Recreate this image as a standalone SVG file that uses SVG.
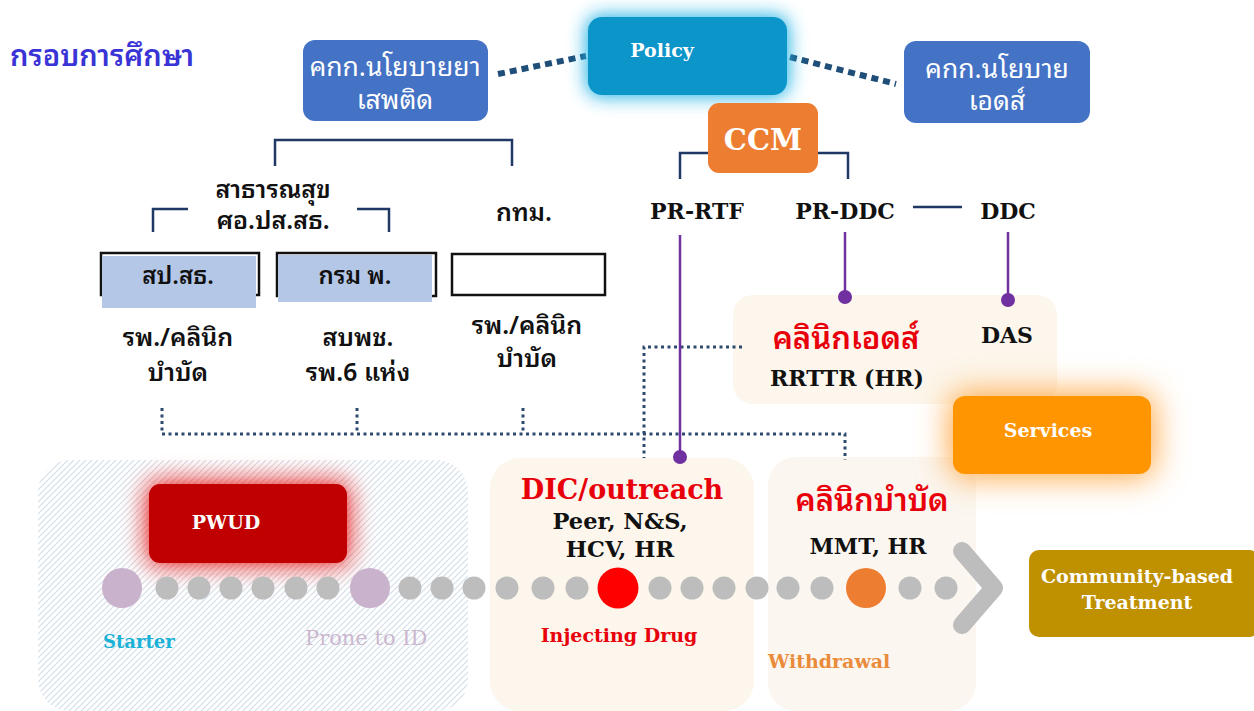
<svg xmlns="http://www.w3.org/2000/svg" width="1254" height="711" viewBox="0 0 1254 711">
  <style>
    .th { font-family: "Noto Sans Thai Looped", "Noto Sans Thai", "Noto Sans", "DejaVu Sans", sans-serif; }
    .tb { font-weight: 600; }
    .sf { font-family: "DejaVu Serif", "Liberation Serif", serif; font-weight: bold; }
    .wt { fill: #ffffff; }
    .bk { fill: #111111; }
    .rd { fill: #e8000b; }
    .brk { fill: none; stroke: #1f3864; stroke-width: 2.5; }
    .dot3 { fill: none; stroke: #2e4a6e; stroke-width: 3; stroke-dasharray: 3 3.5; }
    .dot6 { fill: none; stroke: #1f4e79; stroke-width: 6; stroke-dasharray: 7 5; }
    .pl { stroke: #7030a0; stroke-width: 2.5; fill: none; }
    .pd { fill: #7030a0; }
    .gd { fill: #bdbdbd; }
    .bd { fill: #c9b3cc; }
  </style>
  <defs>
    <filter id="glowCyan" x="-30%" y="-50%" width="160%" height="200%">
      <feGaussianBlur stdDeviation="9"/>
    </filter>
    <filter id="glowOrange" x="-50%" y="-80%" width="200%" height="260%">
      <feGaussianBlur stdDeviation="16"/>
    </filter>
    <filter id="glowRed" x="-40%" y="-60%" width="180%" height="220%">
      <feGaussianBlur stdDeviation="12"/>
    </filter>
    <pattern id="hatch" patternUnits="userSpaceOnUse" width="6" height="6">
      <rect width="6" height="6" fill="#ffffff"/>
      <path d="M0,6 L6,0 M-1,1 L1,-1 M5,7 L7,5" stroke="#d3dfea" stroke-width="1.2"/>
    </pattern>
  </defs>

  <rect width="1254" height="711" fill="#ffffff"/>

  <!-- heading -->
  <text class="th tb" x="10" y="66" font-size="29" fill="#3a33d6">กรอบการศึกษา</text>

  <!-- bottom stage panels -->
  <g id="panel-early">
    <rect x="38" y="460" width="430" height="251" rx="32" fill="url(#hatch)"/>
  </g>
  <g id="panel-dic">
    <rect x="490" y="458" width="264" height="253" rx="30" fill="#fcf6ec"/>
    <text class="sf rd" x="622" y="499" font-size="27" text-anchor="middle">DIC/outreach</text>
    <text class="sf bk" x="620" y="529" font-size="22.5" text-anchor="middle">Peer, N&amp;S,</text>
    <text class="sf bk" x="620" y="557" font-size="22.5" text-anchor="middle">HCV, HR</text>
  </g>
  <g id="panel-clinic">
    <rect x="768" y="457" width="208" height="254" rx="28" fill="#fbf6f0"/>
    <text class="th rd tb" x="872" y="511" font-size="31" text-anchor="middle">คลินิกบำบัด</text>
    <text class="sf bk" x="868" y="554" font-size="22" text-anchor="middle">MMT, HR</text>
  </g>

  <!-- AIDS clinic panel -->
  <g id="panel-aids">
    <rect x="733" y="295" width="324" height="109" rx="20" fill="#fcf6ec"/>
    <text class="th rd tb" x="846" y="349" font-size="31" text-anchor="middle">คลินิกเอดส์</text>
    <text class="sf bk" x="847" y="386" font-size="22" text-anchor="middle">RRTTR (HR)</text>
    <text class="sf bk" x="1007" y="343" font-size="22" text-anchor="middle">DAS</text>
  </g>

  <!-- connectors -->
  <g id="connectors">
    <!-- policy links -->
    <path class="dot6" d="M498,74 L586,56"/>
    <path class="dot6" d="M790,57 L896,84"/>
    <!-- drug committee bracket -->
    <path class="brk" d="M275,166 V140 H512 V166"/>
    <!-- CCM bracket -->
    <path class="brk" d="M680,179 V153 H708 M818,153 H848 V179"/>
    <!-- public health bracket -->
    <path class="brk" d="M153,232 V209 H188 M357,209 H389 V232"/>
    <!-- PR-DDC to DDC -->
    <path class="brk" d="M913,207 H962"/>
    <!-- service referral dotted lines -->
    <path class="dot3" d="M162,408 V434 H845 V460"/>
    <path class="dot3" d="M357,408 V434"/>
    <path class="dot3" d="M523,408 V434"/>
    <path class="dot3" d="M742,347 H644 V458"/>
    <!-- purple service lines -->
    <path class="pl" d="M680,235 V457"/>
    <circle class="pd" cx="680" cy="457" r="7"/>
    <path class="pl" d="M845,232 V297"/>
    <circle class="pd" cx="845" cy="297" r="7"/>
    <path class="pl" d="M1008,232 V300"/>
    <circle class="pd" cx="1008" cy="300" r="7"/>
  </g>

  <!-- governance boxes -->
  <g id="drug-committee">
    <rect x="303" y="40" width="185" height="81" rx="12" fill="#4472c4"/>
    <text class="th wt" x="395" y="76" font-size="26.5" text-anchor="middle">คกก.นโยบายยา</text>
    <text class="th wt" x="395" y="109" font-size="26.5" text-anchor="middle">เสพติด</text>
  </g>
  <g id="policy">
    <rect x="586" y="15" width="203" height="82" rx="15" fill="#22b4e6" filter="url(#glowCyan)"/>
    <rect x="588" y="17" width="199" height="78" rx="14" fill="#0b95c9"/>
    <text class="sf wt" x="662" y="57" font-size="19" text-anchor="middle">Policy</text>
  </g>
  <g id="aids-committee">
    <rect x="904" y="41" width="186" height="82" rx="12" fill="#4472c4"/>
    <text class="th wt" x="997" y="78" font-size="26.5" text-anchor="middle">คกก.นโยบาย</text>
    <text class="th wt" x="997" y="110" font-size="26.5" text-anchor="middle">เอดส์</text>
  </g>
  <g id="ccm">
    <rect x="708" y="103" width="110" height="70" rx="11" fill="#ed7d31"/>
    <text class="sf wt" x="763" y="150" font-size="29" text-anchor="middle">CCM</text>
  </g>

  <!-- organisation labels -->
  <g id="public-health">
    <text class="th bk tb" x="273" y="198" font-size="25" text-anchor="middle">สาธารณสุข</text>
    <text class="th bk tb" x="273" y="229" font-size="25" text-anchor="middle">ศอ.ปส.สธ.</text>
  </g>
  <g id="bma">
    <text class="th bk tb" x="524" y="221" font-size="25" text-anchor="middle">กทม.</text>
  </g>
  <g id="pr-rtf">
    <text class="sf bk" x="697" y="219" font-size="22" text-anchor="middle">PR-RTF</text>
  </g>
  <g id="pr-ddc">
    <text class="sf bk" x="845" y="219" font-size="22" text-anchor="middle">PR-DDC</text>
  </g>
  <g id="ddc">
    <text class="sf bk" x="1008" y="219" font-size="22" text-anchor="middle">DDC</text>
  </g>

  <!-- agency boxes -->
  <g id="ops">
    <rect x="101" y="253" width="158" height="42" fill="#ffffff" stroke="#111111" stroke-width="2.5"/>
    <rect x="102" y="256" width="154" height="52" fill="#b4c7e7"/>
    <text class="th bk tb" x="178" y="284" font-size="24" text-anchor="middle">สป.สธ.</text>
    <text class="th bk tb" x="178" y="346" font-size="25" text-anchor="middle">รพ./คลินิก</text>
    <text class="th bk tb" x="178" y="381" font-size="25" text-anchor="middle">บำบัด</text>
  </g>
  <g id="dms">
    <rect x="277" y="253" width="159" height="43" fill="#ffffff" stroke="#111111" stroke-width="2.5"/>
    <rect x="278" y="255" width="154" height="47" fill="#b4c7e7"/>
    <text class="th bk tb" x="355" y="284" font-size="24" text-anchor="middle">กรม พ.</text>
    <text class="th bk tb" x="358" y="346" font-size="25" text-anchor="middle">สบพช.</text>
    <text class="th bk tb" x="358" y="381" font-size="25" text-anchor="middle">รพ.6 แห่ง</text>
  </g>
  <g id="bma-units">
    <rect x="452" y="254" width="153" height="41" fill="#ffffff" stroke="#111111" stroke-width="2.5"/>
    <text class="th bk tb" x="527" y="334" font-size="25" text-anchor="middle">รพ./คลินิก</text>
    <text class="th bk tb" x="527" y="367" font-size="25" text-anchor="middle">บำบัด</text>
  </g>

  <!-- services -->
  <g id="services">
    <rect x="950" y="393" width="204" height="84" rx="14" fill="#ffa640" filter="url(#glowOrange)"/>
    <rect x="953" y="396" width="198" height="78" rx="12" fill="#ff9500"/>
    <text class="sf wt" x="1048" y="437" font-size="19" text-anchor="middle">Services</text>
  </g>

  <!-- PWUD -->
  <g id="pwud">
    <rect x="147" y="482" width="202" height="83" rx="12" fill="#e81818" filter="url(#glowRed)"/>
    <rect x="149" y="484" width="198" height="79" rx="11" fill="#c00000"/>
    <text class="sf wt" x="226" y="529" font-size="19" text-anchor="middle">PWUD</text>
  </g>

  <!-- pathway of dots -->
  <g id="pathway">
    <circle class="bd" cx="122" cy="588" r="20"/>
    <circle class="gd" cx="167" cy="588" r="11.5"/>
    <circle class="gd" cx="199" cy="588" r="11.5"/>
    <circle class="gd" cx="231" cy="588" r="11.5"/>
    <circle class="gd" cx="263" cy="588" r="11.5"/>
    <circle class="gd" cx="296" cy="588" r="11.5"/>
    <circle class="gd" cx="328" cy="588" r="11.5"/>
    <circle class="bd" cx="370" cy="588" r="20"/>
    <circle class="gd" cx="410" cy="588" r="11.5"/>
    <circle class="gd" cx="442" cy="588" r="11.5"/>
    <circle class="gd" cx="474" cy="588" r="11.5"/>
    <circle class="gd" cx="507" cy="588" r="11.5"/>
    <circle class="gd" cx="543" cy="588" r="11.5"/>
    <circle class="gd" cx="577" cy="588" r="11.5"/>
    <circle cx="618" cy="588" r="20.5" fill="#ff0000"/>
    <circle class="gd" cx="660" cy="588" r="11.5"/>
    <circle class="gd" cx="692" cy="588" r="11.5"/>
    <circle class="gd" cx="724" cy="588" r="11.5"/>
    <circle class="gd" cx="757" cy="588" r="11.5"/>
    <circle class="gd" cx="788" cy="588" r="11.5"/>
    <circle class="gd" cx="822" cy="588" r="11.5"/>
    <circle cx="866" cy="588" r="20" fill="#ed7d31"/>
    <circle class="gd" cx="910" cy="588" r="11.5"/>
    <circle class="gd" cx="946" cy="588" r="11.5"/>
    <path d="M962,551 L994,588 L962,625" fill="none" stroke="#bdbdbd" stroke-width="18" stroke-linecap="round" stroke-linejoin="round"/>
    <text class="sf" x="103" y="648" font-size="18" fill="#1ab2d6">Starter</text>
    <text x="305" y="645" font-size="21" fill="#cbb8cf" font-family="DejaVu Serif, Liberation Serif, serif">Prone to ID</text>
    <text class="sf rd" x="619" y="642" font-size="19" text-anchor="middle">Injecting Drug</text>
    <text class="sf" x="768" y="668" font-size="19" fill="#e98b3a">Withdrawal</text>
  </g>

  <!-- community-based treatment -->
  <g id="community">
    <rect x="1029" y="550" width="230" height="87" rx="10" fill="#bf9000"/>
    <text class="sf wt" x="1137" y="583" font-size="19" text-anchor="middle">Community-based</text>
    <text class="sf wt" x="1137" y="609" font-size="19" text-anchor="middle">Treatment</text>
  </g>
</svg>
